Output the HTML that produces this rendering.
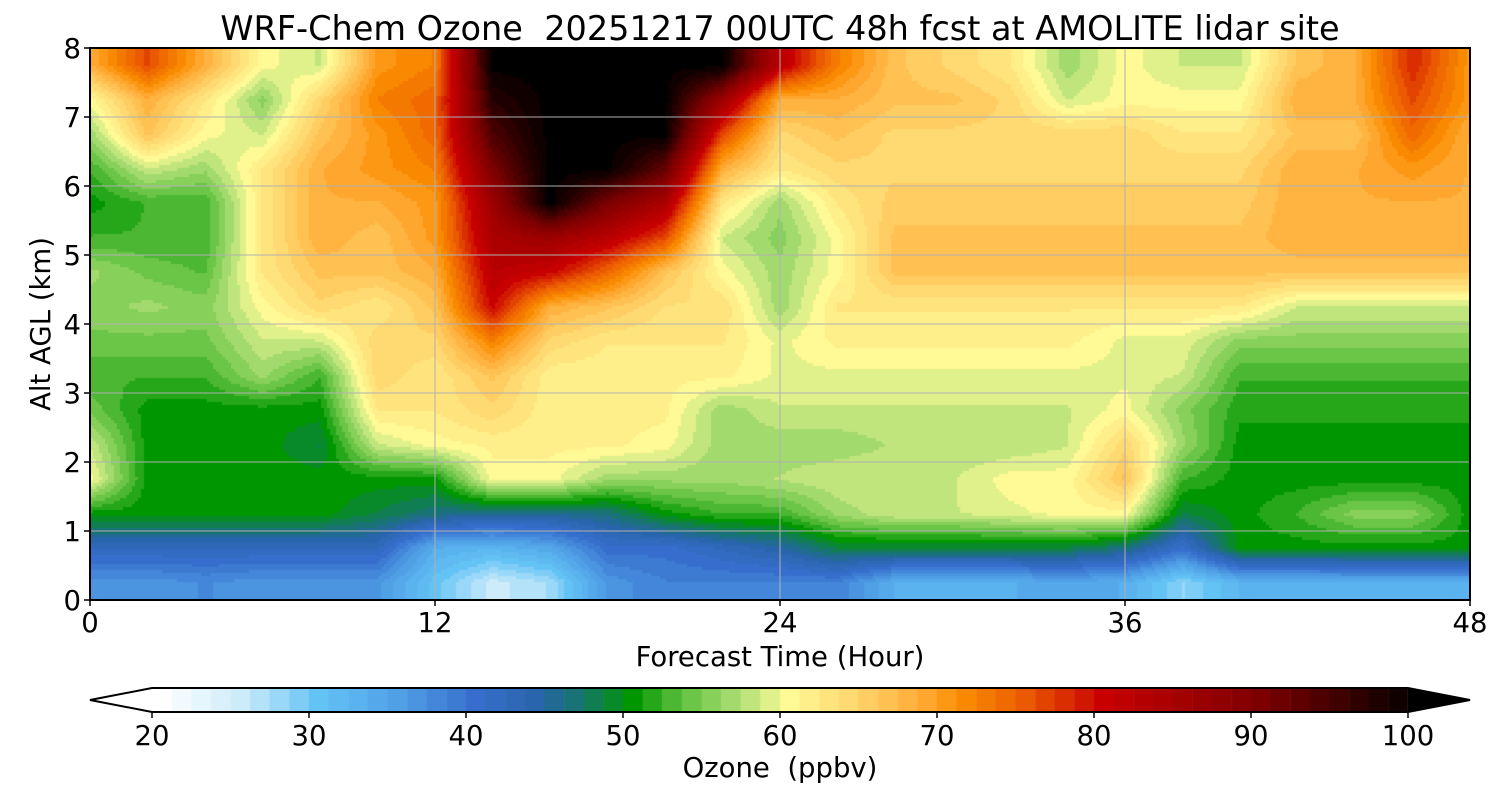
<!DOCTYPE html>
<html><head><meta charset="utf-8">
<style>
html,body{margin:0;padding:0;background:#fff;}
body{width:1500px;height:800px;position:relative;overflow:hidden;font-family:"DejaVu Sans","Liberation Sans",sans-serif;}
canvas{position:absolute;left:0;top:0;}
svg{position:absolute;left:0;top:0;font-family:"DejaVu Sans","Liberation Sans",sans-serif;}
svg text{white-space:pre;}
</style></head>
<body>
<canvas id="c" width="1500" height="800"></canvas>
<svg id="s" width="1500" height="800"></svg>
<script>
// ---- data ----
const hours = [0,2,4,6,8,10,12,14,16,18,20,22,24,26,28,30,32,34,36,38,40,42,44,46,48];
const altitudes = [0.25,0.75,1.25,1.75,2.25,2.75,3.25,3.75,4.25,4.75,5.25,5.75,6.25,6.75,7.25,7.75];
const xTickLabels = [0,12,24,36,48];
const yTickLabels = [0,1,2,3,4,5,6,7,8];
const cbarTickLabels = [20,30,40,50,60,70,80,90,100];
// rows bottom (0.25 km) -> top (7.75 km), columns = hours
const ozone = [
 [36,36,37,36,36,36,30,25,27,36,38,38,38,38,33,33,33,34,33,28,32,32,33,33,33],
 [42,42,42,42,42,42,33,32,34,40,40,42,44,48,48,48,48,48,46,40,50,50,50,50,50],
 [50,50,50,50,50,48,46,45,45,46,50,52,52,56,58,58,59,60,60,48,50,52,55,55,50],
 [60,50,50,50,50,50,50,60,60,56,56,56,57,58,58,58,60,60,66,52,50,50,50,50,50],
 [58,50,50,50,48,58,60,61,61,61,60,56,56,56,57,57,57,58,64,56,50,50,50,50,50],
 [54,50,50,50,50,62,62,64,61,61,61,56,58,58,58,58,58,58,60,55,51,51,51,51,51],
 [52,52,52,56,52,64,62,66,61,61,61,61,59,59,59,59,59,59,59,58,52,52,52,52,52],
 [54,54,54,58,58,64,64,72,64,62,62,62,59,61,61,61,61,61,59,59,55,55,55,55,55],
 [55,56,55,60,64,62,66,80,68,66,63,63,56,62,62,62,62,62,62,62,62,58,58,58,58],
 [56,54,53,62,66,66,68,82,80,74,66,60,56,60,66,66,66,66,66,66,66,66,66,66,66],
 [52,52,52,62,68,66,70,84,86,82,76,58,55,60,66,66,66,66,66,66,66,68,68,68,68],
 [50,52,52,62,68,68,70,86,100,90,84,62,56,62,65,65,65,65,65,65,65,68,68,68,68],
 [52,58,56,62,68,70,72,90,100,100,92,68,62,64,64,64,64,64,64,64,64,68,68,70,68],
 [56,66,60,58,66,70,74,94,100,100,100,76,64,66,64,64,64,64,64,62,62,66,66,74,68],
 [60,68,62,55,64,72,74,97,100,100,100,86,68,68,66,66,64,58,60,60,60,68,68,76,70],
 [68,76,68,60,58,70,72,100,100,100,100,100,82,72,66,64,62,56,60,58,58,66,68,78,70]
];
// ---- geometry ----
const X0=90,X1=1470,Y0=48,Y1=600;
const xs=h=>X0+(h/48)*(X1-X0);
const ys=a=>Y1-(a/8)*(Y1-Y0);
const CB0=152,CB1=1408,CBY=688,CBH=24;
const cx=v=>CB0+(v-20)/80*(CB1-CB0);
const anchors=[[20,[255,255,255]],[25,[205,236,250]],[30,[100,195,245]],[35,[80,160,230]],[40,[55,110,205]],[44,[40,100,170]],[47,[20,120,100]],[50,[0,150,0]],[53,[90,190,60]],[57,[180,225,120]],[60,[255,250,150]],[64,[255,215,110]],[68,[255,175,60]],[71,[250,140,0]],[75,[235,90,0]],[80,[200,0,0]],[90,[125,0,0]],[100,[0,0,0]]];
function color(v){
  v=Math.max(20,Math.min(100,Math.round(v/1.25)*1.25));
  for(let i=0;i<anchors.length-1;i++){
    const [a,ca]=anchors[i],[b,cb]=anchors[i+1];
    if(v<=b){const t=(v-a)/(b-a);return `rgb(${ca.map((c,k)=>Math.round(c+(cb[k]-c)*t)).join(',')})`;}
  }
  return 'rgb(0,0,0)';
}
function sample(h,a){
  let fi=(h-hours[0])/(hours[1]-hours[0]);fi=Math.max(0,Math.min(hours.length-1,fi));
  let fj=(a-altitudes[0])/(altitudes[1]-altitudes[0]);fj=Math.max(0,Math.min(altitudes.length-1,fj));
  const i0=Math.min(Math.floor(fi),hours.length-2),j0=Math.min(Math.floor(fj),altitudes.length-2);
  const ti=fi-i0,tj=fj-j0;
  const v00=ozone[j0][i0],v10=ozone[j0][i0+1],v01=ozone[j0+1][i0],v11=ozone[j0+1][i0+1];
  return (v00*(1-ti)+v10*ti)*(1-tj)+(v01*(1-ti)+v11*ti)*tj;
}
const ctx=document.getElementById('c').getContext('2d');
const step=3;
for(let px=X0;px<X1;px+=step){
  for(let py=Y0;py<Y1;py+=step){
    const h=(px+step/2-X0)/(X1-X0)*48, a=(Y1-(py+step/2))/(Y1-Y0)*8;
    ctx.fillStyle=color(sample(h,a));
    ctx.fillRect(px,py,step,step);
  }
}
for(let v=20;v<100;v+=1.25){
  ctx.fillStyle=color(v+0.6);
  ctx.fillRect(cx(v),CBY,cx(v+1.25)-cx(v)+0.5,CBH);
}
// ---- svg overlay ----
const svg=document.getElementById('s');const NS='http://www.w3.org/2000/svg';
function el(tag,attrs,text){const e=document.createElementNS(NS,tag);for(const k in attrs)e.setAttribute(k,attrs[k]);if(text!==undefined)e.textContent=text;svg.appendChild(e);return e;}
xTickLabels.forEach(t=>{const g=el('line',{x1:xs(t),x2:xs(t),y1:Y0,y2:Y1,stroke:'#b0b0b0','stroke-width':1});

});
yTickLabels.forEach(t=>{const g=el('line',{x1:X0,x2:X1,y1:ys(t),y2:ys(t),stroke:'#b0b0b0','stroke-width':1});

});
const frame=el('rect',{x:X0,y:Y0,width:X1-X0,height:Y1-Y0,fill:'none',stroke:'#000','stroke-width':2});


xTickLabels.forEach(t=>{
  const tk=el('line',{x1:xs(t),x2:xs(t),y1:Y1,y2:Y1+6,stroke:'#000','stroke-width':1.5});
  
  
  const tx=el('text',{x:xs(t),y:Y1+32,'font-size':27.5,'text-anchor':'middle'},String(t));
  
  
});
yTickLabels.forEach(t=>{
  const tk=el('line',{x1:X0-6,x2:X0,y1:ys(t),y2:ys(t),stroke:'#000','stroke-width':1.5});
  
  
  const tx=el('text',{x:X0-9,y:ys(t)+10,'font-size':27.5,'text-anchor':'end'},String(t));
  
  
});
const title=el('text',{x:780,y:40,'font-size':33.5,'text-anchor':'middle'},'WRF-Chem Ozone  20251217 00UTC 48h fcst at AMOLITE lidar site');


const xl=el('text',{x:780,y:666,'font-size':27.5,'text-anchor':'middle'},'Forecast Time (Hour)');


const yl=el('text',{x:50,y:324,'font-size':27.5,'text-anchor':'middle',transform:'rotate(-90 50 324)'},'Alt AGL (km)');


const lt=el('polygon',{points:`${CB0},${CBY} 90,${CBY+CBH/2} ${CB0},${CBY+CBH}`,fill:'#fff',stroke:'none'});


const rt=el('polygon',{points:`${CB1},${CBY} 1470,${CBY+CBH/2} ${CB1},${CBY+CBH}`,fill:'#000'});


const cbf=el('polygon',{points:`${CB0},${CBY} ${CB1},${CBY} 1470,${CBY+CBH/2} ${CB1},${CBY+CBH} ${CB0},${CBY+CBH} 90,${CBY+CBH/2}`,fill:'none',stroke:'#000','stroke-width':2});


cbarTickLabels.forEach(t=>{
  const tk=el('line',{x1:cx(t),x2:cx(t),y1:CBY+CBH,y2:CBY+CBH+6,stroke:'#000','stroke-width':1.5});
  
  
  const tx=el('text',{x:cx(t),y:CBY+CBH+33,'font-size':27.5,'text-anchor':'middle'},String(t));
  
  
});
const cl=el('text',{x:780,y:777,'font-size':27.5,'text-anchor':'middle'},'Ozone  (ppbv)');


</script>
</body></html>
